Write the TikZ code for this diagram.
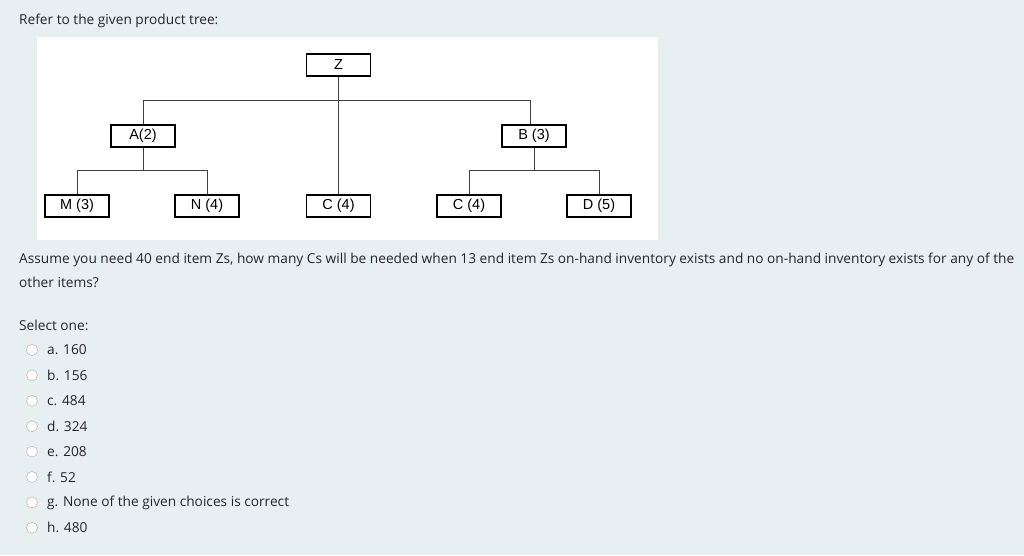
\documentclass[tikz,border=0pt]{standalone}
\usepackage{fontspec}
\setmainfont{Open Sans}
\newfontfamily\arialf{Liberation Sans}
\begin{document}
\begin{tikzpicture}[x=1pt,y=-1pt,
  bx/.style={draw,line width=1.3pt,minimum width=64pt,minimum height=22pt,inner sep=0pt,font=\arialf\fontsize{14.5}{14.5}\selectfont,fill=white},
  ln/.style={draw=black!75,line width=1pt},
  txt/.style={anchor=west,inner sep=0pt,font=\fontsize{13.7}{16}\selectfont,text=black!85},
  radio/.style={circle,draw=black!35,fill=white,minimum size=11pt,inner sep=0pt}]
\fill[fill={rgb,255:red,231;green,239;blue,243}] (0,0) rectangle (1024,555);
\useasboundingbox (0,0) rectangle (1024,555);
\fill[white] (37,37) rectangle (658,240);
\node[txt] (t0) at (19,21) {Refer to the given product tree:};
\node[bx] (Z) at (338.5,65) {Z};
\node[bx] (A) at (143,136) {A(2)};
\node[bx] (B) at (534,136) {B (3)};
\node[bx] (M) at (77,206) {M (3)};
\node[bx] (N) at (207,206) {N (4)};
\node[bx] (C1) at (338.5,206) {C (4)};
\node[bx] (C2) at (469,206) {C (4)};
\node[bx] (D) at (599,206) {D (5)};
\coordinate (ja) at (143,100); \coordinate (jb) at (530,100);
\draw[ln] (Z) -- (C1);
\draw[ln] (A.north) -- (ja) -- (jb) -- (jb |- B.north);
\draw[ln] (A.south) -- (143,170);
\draw[ln] (M.north) -- (77,170) -- (207,170) -- (N.north);
\draw[ln] (B.south) -- (534,170);
\draw[ln] (C2.north) -- (469,170) -- (599,170) -- (D.north);
\node[txt] (q1) at (19,260) {Assume you need 40 end item Zs, how many Cs will be needed when 13 end item Zs on-hand inventory exists and no on-hand inventory exists for any of the};
\node[txt] (q2) at (19,282) {other items?};
\node[txt] (s) at (19,325) {Select one:};
\foreach \i/\t in {0/a. 160,1/b. 156,2/c. 484,3/d. 324,4/e. 208,5/f. 52,6/g. None of the given choices is correct,7/h. 480}{
  \node[radio] (r\i) at (32,350+25.4*\i) {};
  \node[txt] (o\i) at (47,350+25.4*\i) {\t};
}
\end{tikzpicture}
\end{document}
